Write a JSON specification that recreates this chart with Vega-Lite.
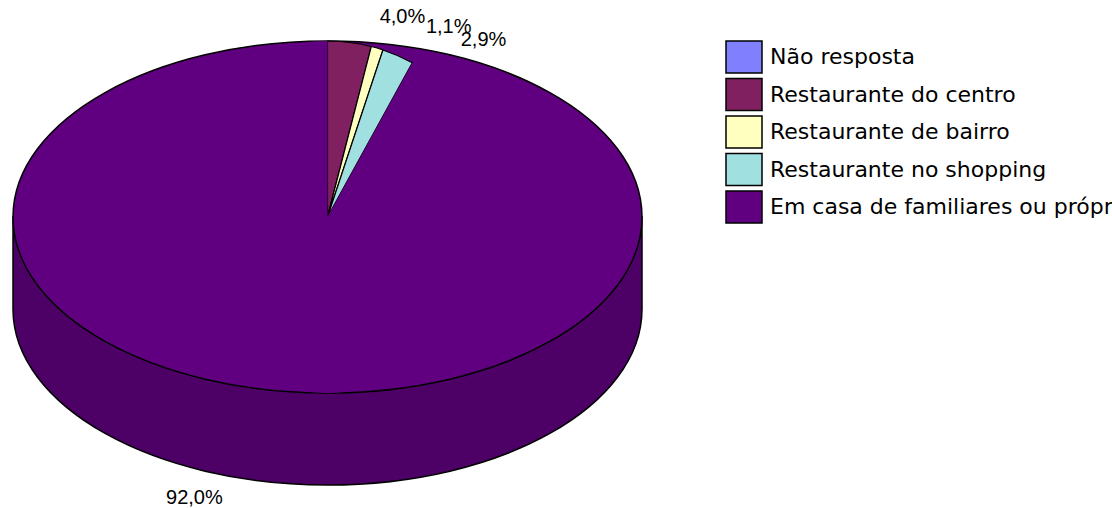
{
  "$schema": "https://vega.github.io/schema/vega-lite/v6.json",
  "width": 655,
  "height": 434,
  "autosize": {"type": "none"},
  "padding": {"left": 0, "top": 0, "right": 457, "bottom": 74},
  "background": "white",
  "config": {
    "view": {"stroke": null},
    "locale": {"number": {"decimal": ",", "thousands": ".", "grouping": [3], "currency": ["R$", ""]}}
  },
  "data": {
    "values": [
      {"local": "Não resposta", "valor": 0.0},
      {"local": "Restaurante do centro", "valor": 0.040},
      {"local": "Restaurante de bairro", "valor": 0.011},
      {"local": "Restaurante no shopping", "valor": 0.029},
      {"local": "Em casa de familiares ou próprios", "valor": 0.920}
    ]
  },
  "layer": [
    {
      "data": {"values": [{"parte": "lateral"}]},
      "mark": {
        "type": "point",
        "shape": "M -1 0 L -1 0.2925 A 1 0.5596 0 0 0 1 0.2925 L 1 0 Z",
        "size": 395641,
        "filled": true,
        "fill": "#4D0066",
        "stroke": "black",
        "strokeWidth": 1.5,
        "opacity": 1
      },
      "encoding": {}
    },
    {
      "data": {"values": [{"parte": "topo"}]},
      "mark": {
        "type": "point",
        "shape": "M -1 0 A 1 0.5596 0 1 1 1 0 A 1 0.5596 0 1 1 -1 0 Z",
        "size": 395641,
        "filled": true,
        "fill": "#600080",
        "stroke": "black",
        "strokeWidth": 1.5,
        "opacity": 1
      },
      "encoding": {}
    },
    {
      "transform": [{"window": [{"op": "row_number", "as": "ordem"}]}],
      "mark": {"type": "arc", "radius": 176, "stroke": "black"},
      "encoding": {
        "theta": {"field": "valor", "type": "quantitative", "stack": true},
        "order": {"field": "ordem", "type": "quantitative"},
        "color": {
          "field": "local",
          "type": "nominal",
          "sort": null,
          "scale": {
            "domain": ["Não resposta", "Restaurante do centro", "Restaurante de bairro", "Restaurante no shopping", "Em casa de familiares ou próprios"],
            "range": ["#8080FF", "#802060", "#FFFFC0", "#A0E0E0", "#600080"]
          },
          "legend": {
            "title": null,
            "orient": "none",
            "legendX": 727,
            "legendY": 40,
            "padding": 0,
            "symbolType": "M -1.125 -1 H 1.125 V 1 H -1.125 Z",
            "symbolSize": 1024,
            "symbolStrokeColor": "black",
            "symbolStrokeWidth": 1.5,
            "symbolOpacity": 1,
            "labelFont": "DejaVu Sans",
            "labelFontSize": 22,
            "labelColor": "black",
            "labelOffset": 9,
            "labelLimit": 600,
            "rowPadding": -0.5
          }
        },
        "strokeWidth": {"condition": {"test": "datum.valor > 0.5", "value": 0}, "value": 1.2}
      }
    },
    {
      "transform": [{"window": [{"op": "row_number", "as": "ordem"}]}],
      "mark": {"type": "text", "radius": 295, "dx": 38, "dy": 93, "font": "Liberation Sans", "fontSize": 20, "color": "black"},
      "encoding": {
        "theta": {"field": "valor", "type": "quantitative", "stack": true},
        "order": {"field": "ordem", "type": "quantitative"},
        "text": {"condition": {"test": "datum.valor > 0 && datum.valor < 0.5", "field": "valor", "type": "quantitative", "format": ".1%"}, "value": ""}
      }
    },
    {
      "transform": [{"window": [{"op": "row_number", "as": "ordem"}]}],
      "mark": {"type": "text", "radius": 290, "dx": -61, "font": "Liberation Sans", "fontSize": 20, "color": "black"},
      "encoding": {
        "theta": {"field": "valor", "type": "quantitative", "stack": true},
        "order": {"field": "ordem", "type": "quantitative"},
        "text": {"condition": {"test": "datum.valor >= 0.5", "field": "valor", "type": "quantitative", "format": ".1%"}, "value": ""}
      }
    }
  ]
}
